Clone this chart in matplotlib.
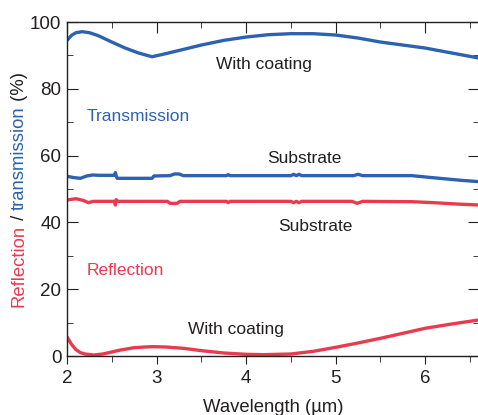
import matplotlib
matplotlib.use('Agg')
import matplotlib.pyplot as plt
from matplotlib.ticker import MultipleLocator

plt.rcParams['font.family'] = ['Liberation Sans', 'DejaVu Sans']

BLUE = '#2c62b0'
RED = '#ea3a4f'
DARK = '#231f20'

# transmission, with coating
x_t_coat = [2.0, 2.05, 2.1, 2.17, 2.25, 2.35, 2.5, 2.65, 2.8, 2.95, 3.1, 3.3, 3.5,
            3.75, 4.0, 4.25, 4.5, 4.75, 5.0, 5.25, 5.5, 5.75, 6.0, 6.3, 6.6]
t_coat = [94.5, 96.0, 96.8, 97.1, 96.8, 95.9, 94.0, 92.2, 90.7, 89.6, 90.5, 91.8, 93.1,
          94.5, 95.5, 96.2, 96.5, 96.5, 96.1, 95.2, 94.0, 93.1, 92.2, 90.7, 89.2]

# transmission, substrate
x_t_sub = [2.0, 2.08, 2.15, 2.22, 2.29, 2.35, 2.53, 2.54, 2.55, 2.56, 2.95, 2.97, 3.15,
           3.2, 3.25, 3.3, 3.78, 3.8, 3.82, 4.5, 4.53, 4.56, 4.59, 4.62, 5.2, 5.25, 5.3,
           5.85, 6.0, 6.2, 6.4, 6.6]
t_sub = [53.8, 53.4, 53.2, 53.9, 54.2, 54.1, 54.1, 54.9, 53.9, 53.2, 53.2, 53.9, 54.0,
         54.5, 54.5, 54.0, 54.0, 54.3, 54.0, 54.0, 54.4, 54.0, 54.4, 54.0, 54.0, 54.4, 54.0,
         54.0, 53.6, 53.1, 52.6, 52.2]

# reflection, substrate
x_r_sub = [2.0, 2.1, 2.18, 2.24, 2.29, 2.35, 2.53, 2.54, 2.55, 2.56, 3.12, 3.15, 3.23,
           3.26, 3.78, 3.8, 3.82, 4.5, 4.53, 4.56, 4.59, 4.62, 5.18, 5.24, 5.3, 5.85,
           6.1, 6.35, 6.6]
r_sub = [46.7, 47.1, 46.6, 45.9, 46.3, 46.3, 46.3, 45.2, 46.8, 46.3, 46.3, 45.7, 45.7,
         46.3, 46.3, 45.9, 46.3, 46.3, 45.9, 46.3, 45.9, 46.3, 46.3, 45.7, 46.3, 46.2,
         45.9, 45.5, 45.2]

# reflection, with coating
x_r_coat = [2.0, 2.05, 2.1, 2.15, 2.2, 2.3, 2.4, 2.5, 2.6, 2.75, 2.95, 3.1, 3.3, 3.5,
            3.75, 4.0, 4.2, 4.5, 4.75, 5.0, 5.25, 5.5, 5.75, 6.0, 6.3, 6.6]
r_coat = [5.7, 3.5, 1.9, 1.0, 0.6, 0.3, 0.6, 1.2, 1.8, 2.5, 2.8, 2.7, 2.3, 1.6,
          0.9, 0.5, 0.4, 0.6, 1.4, 2.6, 3.9, 5.3, 6.8, 8.3, 9.6, 10.8]

fig = plt.figure(figsize=(4.78, 4.15), dpi=100)
ax = fig.add_axes([67 / 478, 59 / 415, 412 / 478, 334 / 415])

lw = 2.4
ax.plot(x_t_coat, t_coat, color=BLUE, lw=lw, solid_capstyle='butt')
ax.plot(x_t_sub, t_sub, color=BLUE, lw=lw, solid_capstyle='butt')
ax.plot(x_r_sub, r_sub, color=RED, lw=lw, solid_capstyle='butt')
ax.plot(x_r_coat, r_coat, color=RED, lw=lw, solid_capstyle='butt')

ax.set_xlim(2, 6.6)
ax.set_ylim(0, 100)
ax.xaxis.set_major_locator(MultipleLocator(1))
ax.xaxis.set_minor_locator(MultipleLocator(0.5))
ax.yaxis.set_major_locator(MultipleLocator(20))
ax.yaxis.set_minor_locator(MultipleLocator(10))
ax.spines['right'].set_visible(False)
for s in ['left', 'bottom', 'top']:
    ax.spines[s].set_color(DARK)
    ax.spines[s].set_linewidth(1.0)

ax.tick_params(axis='x', which='both', direction='out', top=False, colors=DARK,
               labelsize=13.5, pad=4)
ax.tick_params(axis='x', which='major', length=6)
ax.tick_params(axis='x', which='minor', length=4)
ax.tick_params(axis='y', which='both', direction='in', right=True, colors=DARK,
               labelsize=13.5, pad=4)
ax.tick_params(axis='y', which='major', length=8)
ax.tick_params(axis='y', which='minor', length=4)

# top ticks pointing inward
top = ax.secondary_xaxis('top')
top.xaxis.set_major_locator(MultipleLocator(1))
top.xaxis.set_minor_locator(MultipleLocator(0.5))
top.tick_params(which='both', direction='in', labeltop=False, colors=DARK)
top.tick_params(which='major', length=8)
top.tick_params(which='minor', length=4)
top.spines['top'].set_visible(False)

fs = 12.5
ax.text(4.2, 87.4, 'With coating', color=DARK, fontsize=fs, ha='center', va='center')
ax.text(2.22, 71.6, 'Transmission', color=BLUE, fontsize=fs, ha='left', va='center')
ax.text(4.65, 59.0, 'Substrate', color=DARK, fontsize=fs, ha='center', va='center')
ax.text(4.77, 38.9, 'Substrate', color=DARK, fontsize=fs, ha='center', va='center')
ax.text(2.22, 25.7, 'Reflection', color=RED, fontsize=fs, ha='left', va='center')
ax.text(3.89, 7.8, 'With coating', color=DARK, fontsize=fs, ha='center', va='center')

ax.set_xlabel('Wavelength (µm)', fontsize=13.3, color=DARK, labelpad=9)

# multi-coloured y label built from pieces
parts = [('Reflection', RED), (' / ', DARK), ('transmission', BLUE), (' (%)', DARK)]
fig.canvas.draw()
renderer = fig.canvas.get_renderer()
texts = []
total = 0
for s, c in parts:
    t = fig.text(0, 0, s, color=c, fontsize=13.3, rotation=90, ha='center', va='bottom')
    h = t.get_window_extent(renderer).height
    texts.append((t, h))
    total += h
fig_h = fig.bbox.height
y0 = (415 - 189.5) - total / 2
for t, h in texts:
    t.set_position((19 / 478, y0 / fig_h))
    y0 += h

fig.savefig('out.png', dpi=100)
